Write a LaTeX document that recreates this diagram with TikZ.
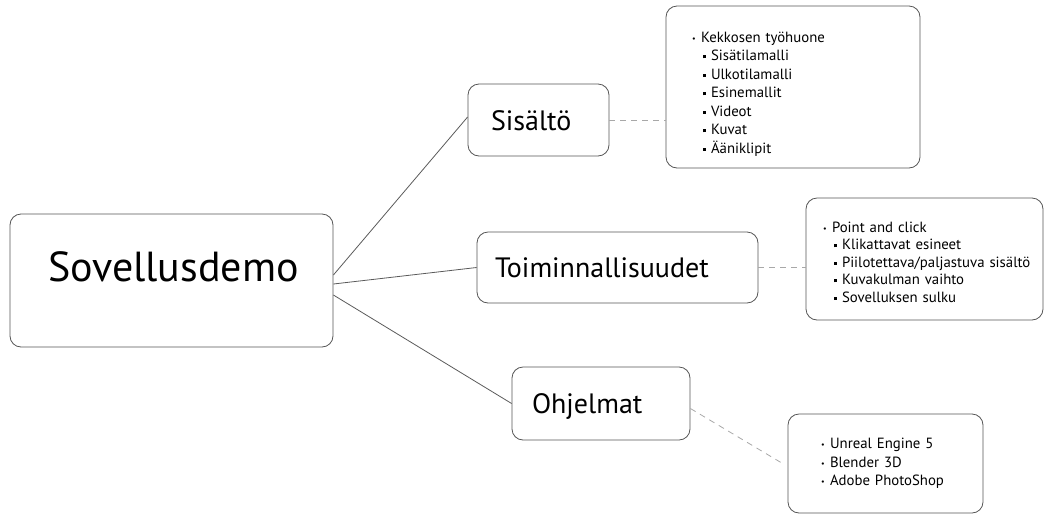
\documentclass[tikz,border=0pt]{standalone}
\usepackage{fontspec}
\setmainfont{PT Sans}
\usetikzlibrary{positioning}
\definecolor{boxgray}{HTML}{555555}
\definecolor{linegray}{HTML}{5A5A5A}
\definecolor{dashgray}{HTML}{A8A8A8}
\newcommand{\lvla}[1]{\mbox{\makebox[9pt][l]{\raisebox{1pt}{\fontsize{8}{8}\selectfont•}}#1}}
\newcommand{\lvlb}[1]{\mbox{\hspace*{11pt}\makebox[8pt][l]{\rule[2.5pt]{3pt}{3pt}}#1}}
\tikzset{
box/.style={draw=boxgray, line width=0.8pt, rounded corners=11pt, align=left, inner ysep=0pt}, % every box
topic/.style={box, minimum height=72pt, text height=21pt, text depth=1pt, font=\fontsize{28}{30}\selectfont}, % the three middle boxes
content/.style={box, font=\fontsize{14.8}{18.5}\selectfont}, % the boxes with the bullet lists
branch/.style={draw=linegray, line width=0.8pt}, % solid lines from the main box
link/.style={draw=dashgray, line width=0.8pt, dash pattern=on 6pt off 5pt}, % dashed lines to the lists
}

\begin{document}
\begin{tikzpicture}[x=1pt, y=-1pt]
    \useasboundingbox (0,0) rectangle (1045,515);
    \node[box, align=center, font=\fontsize{42}{44}\selectfont, text depth=27pt, text width=247pt, inner xsep=38pt, minimum height=133pt] (demo) at (171.5,280.5) {Sovellusdemo};
    \node[topic, text width=95pt, inner xsep=23pt] (sis) at (538.5,120) {Sisältö};
    \node[topic, text width=245pt, inner xsep=18pt, minimum height=71pt] (toim) at (617.5,267.5) {Toiminnallisuudet};
    \node[topic, text width=138pt, inner xsep=20pt, minimum height=73pt] (ohj) at (601,403.5) {Ohjelmat};
    \node[content, text width=202pt, inner xsep=26pt, minimum height=162pt] (sisc) at (793,87)
      {\rule{0pt}{24.5pt}\lvla{Kekkosen työhuone}\\\lvlb{Sisätilamalli}\\\lvlb{Ulkotilamalli}\\\lvlb{Esinemallit}\\\lvlb{Videot}\\\lvlb{Kuvat}\\\lvlb{Ääniklipit}};
    \node[content, font=\fontsize{14.8}{17.5}\selectfont, text width=203pt, inner xsep=17pt, minimum height=122pt] (toimc) at (924.5,259)
      {\rule{0pt}{17pt}\lvla{Point and click}\\\lvlb{Klikattavat esineet}\\\lvlb{Piilotettava/paljastuva sisältö}\\\lvlb{Kuvakulman vaihto}\\\lvlb{Sovelluksen sulku}};
    \node[content, text width=129pt, inner xsep=33pt, minimum height=99pt] (ohjc) at (885.5,463.5)
      {\lvla{Unreal Engine 5}\\\lvla{Blender 3D}\\\lvla{Adobe PhotoShop}};

    \draw[branch] ([yshift=5.5pt]demo.east) -- ([yshift=3pt]sis.west);
    \draw[branch] ([yshift=-3.5pt]demo.east) -- (toim.west);
    \draw[branch] ([yshift=-14.5pt]demo.east) -- (ohj.west);
    \draw[link] (sis.east) -- (sis.east -| sisc.west);
    \draw[link] (toim.east) -- (toim.east -| toimc.west);
    \draw[link] ([yshift=-5pt]ohj.east) -- ([xshift=-5pt]ohjc.west);
  \end{tikzpicture}
\end{document}
